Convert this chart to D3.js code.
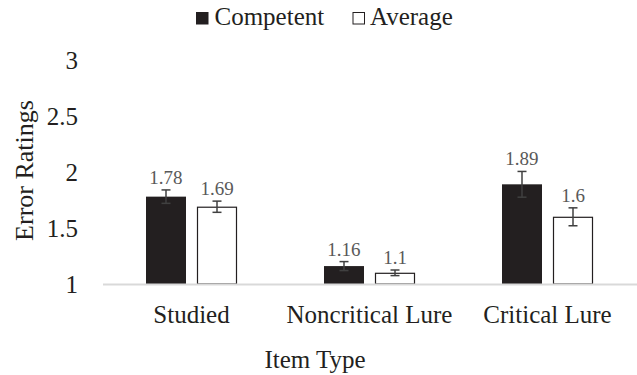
<!DOCTYPE html>
<html><head><meta charset="utf-8">
<script src="https://cdn.jsdelivr.net/npm/d3@7"></script>
<style>html,body{margin:0;padding:0;background:#fff;font-family:"Liberation Serif",serif;}svg{display:block;}</style>
</head><body>
<svg id="chart" width="637" height="375"></svg>
<script>
const categories = ["Studied", "Noncritical Lure", "Critical Lure"];
const seriesNames = ["Competent", "Average"];
const competentValues = [1.78, 1.16, 1.89];
const averageValues = [1.69, 1.10, 1.60];
const competentErrors = [0.06, 0.04, 0.115];
const averageErrors = [0.05, 0.025, 0.08];
const yTicks = [1, 1.5, 2, 2.5, 3];
const yTickLabels = ["1", "1.5", "2", "2.5", "3"];
const yTitle = "Error Ratings";
const xTitle = "Item Type";

const colors = {Competent: "#231f20", Average: "#ffffff"};
const FONT = "'Liberation Serif', 'Times New Roman', serif";
const svg = d3.select("#chart");

const x = d3.scaleBand().domain(categories).range([102.5, 636.5]).padding(0);
const xs = d3.scaleBand().domain(seriesNames).range([-45.5, 45.5]).paddingInner(0.2157);
const y = d3.scaleLinear().domain([1, 3]).range([284, 60]);

const data = [];
categories.forEach((c, i) => {
  data.push({cat: c, s: "Competent", v: competentValues[i], e: competentErrors[i]});
  data.push({cat: c, s: "Average", v: averageValues[i], e: averageErrors[i]});
});

// Y axis tick labels
const yAxis = d3.axisLeft(y).tickValues(yTicks).tickFormat((d, i) => yTickLabels[i]).tickSize(0).tickPadding(0);
const gy = svg.append("g").attr("transform", "translate(78,0)").call(yAxis);
gy.select(".domain").remove();
gy.selectAll("text").attr("font-size", 25).attr("fill", "#231f20").attr("dy", "0.34em");

// bars
const bx = d => x(d.cat) + x.bandwidth() / 2 + xs(d.s);
svg.append("g").selectAll("rect").data(data).join("rect")
  .attr("x", d => bx(d) + (d.s === "Average" ? 0.5 : 0))
  .attr("y", d => y(d.v) + (d.s === "Average" ? 0.5 : 0))
  .attr("width", d => xs.bandwidth() - (d.s === "Average" ? 1 : 0))
  .attr("height", d => y(1) - y(d.v) - (d.s === "Average" ? 0.5 : 0))
  .attr("fill", d => colors[d.s])
  .attr("stroke", d => d.s === "Average" ? "#231f20" : "none")
  .attr("stroke-width", 1.2);

// X axis line
const gx = svg.append("g").attr("transform", `translate(0,${y(1)})`)
  .call(d3.axisBottom(x).tickSize(0).tickPadding(0));
gx.select(".domain").attr("stroke", "#d9d9d9").attr("stroke-width", 2);
gx.selectAll("text").attr("font-size", 25).attr("fill", "#231f20")
  .attr("dy", null).attr("y", 39);

// error bars
const eg = svg.append("g").attr("stroke", "#404040").attr("stroke-width", 1.5);
data.forEach(d => {
  const cx = bx(d) + xs.bandwidth() / 2;
  eg.append("line").attr("x1", cx).attr("x2", cx).attr("y1", y(d.v + d.e)).attr("y2", y(d.v - d.e));
  eg.append("line").attr("x1", cx - 4.5).attr("x2", cx + 4.5).attr("y1", y(d.v + d.e)).attr("y2", y(d.v + d.e));
  eg.append("line").attr("x1", cx - 4.5).attr("x2", cx + 4.5).attr("y1", y(d.v - d.e)).attr("y2", y(d.v - d.e));
});

// data labels
svg.append("g").selectAll("text").data(data).join("text")
  .attr("x", d => bx(d) + xs.bandwidth() / 2)
  .attr("y", d => y(d.v + d.e) - 6)
  .attr("text-anchor", "middle")
  .attr("font-size", 19).attr("fill", "#595959")
  .text(d => String(d.v));

// axis titles
svg.append("text").attr("transform", "translate(33,170.5) rotate(-90)")
  .attr("text-anchor", "middle").attr("font-size", 26).attr("fill", "#231f20")
  .text(yTitle);
svg.append("text").attr("x", 315).attr("y", 368).attr("text-anchor", "middle")
  .attr("font-size", 25).attr("fill", "#231f20").text(xTitle);

// legend
const lg = svg.append("g");
const legendItems = [{name: "Competent", sx: 196, tx: 214.5}, {name: "Average", sx: 352.5, tx: 370}];
legendItems.forEach(it => {
  lg.append("rect").attr("x", it.sx + 0.5).attr("y", 12.5).attr("width", 11.5).attr("height", 11.5)
    .attr("fill", colors[it.name]).attr("stroke", "#231f20").attr("stroke-width", 1);
  lg.append("text").attr("x", it.tx).attr("y", 25).attr("font-size", 25)
    .attr("fill", "#231f20").text(it.name);
});

// force serif font on every text element
svg.selectAll("g").attr("font-family", null);
svg.selectAll("text").attr("font-family", FONT).style("font-family", FONT, "important");
</script>
</body></html>
